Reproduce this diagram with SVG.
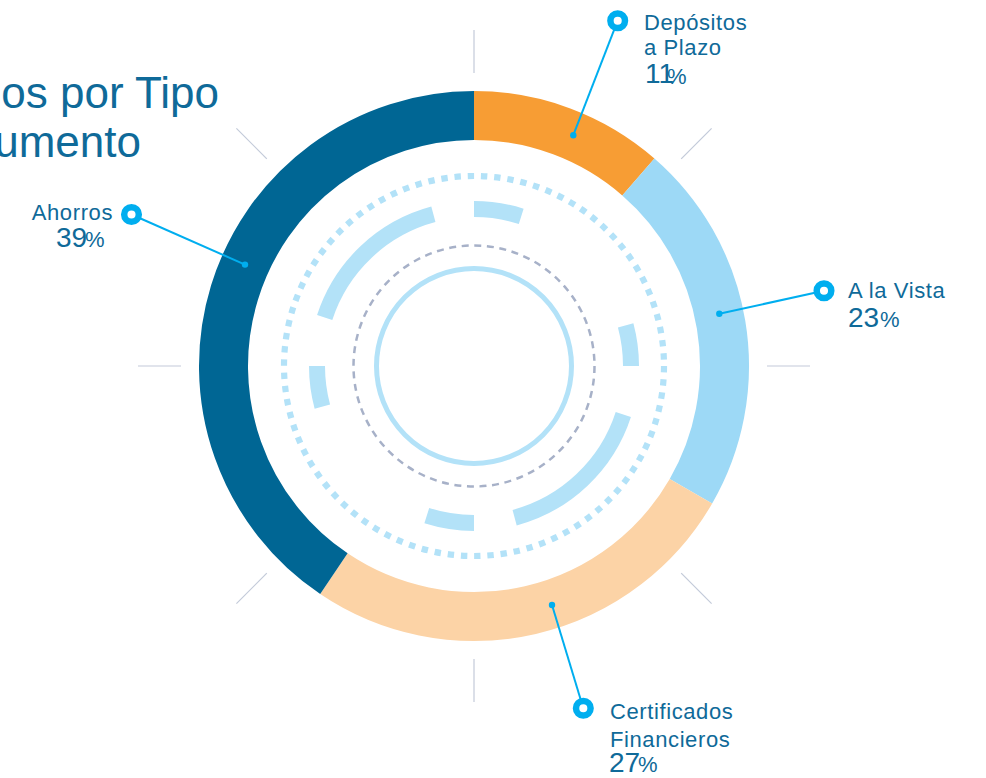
<svg xmlns="http://www.w3.org/2000/svg" width="986" height="778" viewBox="0 0 986 778">
<style>
text{font-family:"Liberation Sans",Arial,sans-serif;fill:#0f6a99}
.ttl{font-size:44px}
.lbl{font-size:22px;letter-spacing:0.6px}
.num{font-size:28px}
.pct{font-size:22px}
.seg{fill:none;stroke-width:49}
.arc{fill:none;stroke:#b3e2f8;stroke-width:16}
.tick{stroke:#c3cad9;stroke-width:1.2}
.conn{stroke:#00aeef;stroke-width:2;fill:none}
.mk{fill:#fff;stroke:#00aeef;stroke-width:6.5}
.dot{fill:#00aeef}
</style>
<rect width="986" height="778" fill="#fff"/>
<g id="title">
<text class="ttl" x="219" y="108" text-anchor="end">os por Tipo</text>
<text class="ttl" x="141" y="157" text-anchor="end">umento</text>
</g>
<g id="ticks">
<line class="tick" x1="474" y1="30" x2="474" y2="73"/>
<line class="tick" x1="681.2" y1="158.8" x2="711.6" y2="128.4"/>
<line class="tick" x1="767" y1="366" x2="810" y2="366"/>
<line class="tick" x1="681.2" y1="573.2" x2="711.6" y2="603.6"/>
<line class="tick" x1="474" y1="659" x2="474" y2="702"/>
<line class="tick" x1="266.8" y1="573.2" x2="236.4" y2="603.6"/>
<line class="tick" x1="181" y1="366" x2="138" y2="366"/>
<line class="tick" x1="266.8" y1="158.8" x2="236.4" y2="128.4"/>
</g>
<g id="ring">
<path id="seg-depositos" class="seg" stroke="#f79d34" d="M474 115.5A250.5 250.5 0 0 1 638.35 176.95"/>
<path id="seg-vista" class="seg" stroke="#9dd9f6" d="M638.35 176.95A250.5 250.5 0 0 1 690.94 491.25"/>
<path id="seg-certificados" class="seg" stroke="#fcd3a6" d="M690.94 491.25A250.5 250.5 0 0 1 333.92 573.67"/>
<path id="seg-ahorros" class="seg" stroke="#006694" d="M333.92 573.67A250.5 250.5 0 0 1 474 115.5"/>
</g>
<g id="decor">
<circle cx="474" cy="366" r="190" fill="none" stroke="#b3e2f8" stroke-width="6.2" stroke-dasharray="6.4 6.864"/>
<path class="arc" d="M474 209A157 157 0 0 1 521.21 216.27"/>
<path class="arc" d="M625.65 325.37A157 157 0 0 1 631 366"/>
<path class="arc" d="M623.32 414.51A157 157 0 0 1 514.63 517.65"/>
<path class="arc" d="M474 523A157 157 0 0 1 426.79 515.73"/>
<path class="arc" d="M322.35 406.63A157 157 0 0 1 317 366"/>
<path class="arc" d="M324.68 317.49A157 157 0 0 1 433.37 214.35"/>
<circle cx="474" cy="366" r="120.5" fill="none" stroke="#a7b1c8" stroke-width="2.5" stroke-dasharray="7 5.62"/>
<circle cx="474" cy="366" r="97.5" fill="none" stroke="#b3e2f8" stroke-width="5"/>
</g>
<g id="connectors">
<line class="conn" x1="617.7" y1="20.7" x2="573.3" y2="135.2"/>
<line class="conn" x1="824" y1="290.7" x2="719.3" y2="313.8"/>
<line class="conn" x1="583.3" y1="708.3" x2="552" y2="605"/>
<line class="conn" x1="131.5" y1="214.5" x2="245" y2="264.6"/>
<circle class="dot" cx="573.3" cy="135.2" r="3.2"/>
<circle class="dot" cx="719.3" cy="313.8" r="3.2"/>
<circle class="dot" cx="552" cy="605" r="3.2"/>
<circle class="dot" cx="245" cy="264.6" r="3.2"/>
</g>
<g id="label-depositos">
<circle class="mk" cx="617.7" cy="20.7" r="7.3"/>
<text class="lbl" x="644" y="30">Depósitos</text>
<text class="lbl" x="644" y="55">a Plazo</text>
<text class="num" x="645" y="83">11</text>
<text class="pct" x="667" y="84">%</text>
</g>
<g id="label-vista">
<circle class="mk" cx="824" cy="290.7" r="7.3"/>
<text class="lbl" x="848" y="298">A la Vista</text>
<text class="num" x="848" y="327">23</text>
<text class="pct" x="880" y="327">%</text>
</g>
<g id="label-certificados">
<circle class="mk" cx="583.3" cy="708.3" r="7.3"/>
<text class="lbl" x="610" y="719">Certificados</text>
<text class="lbl" x="610" y="747">Financieros</text>
<text class="num" x="609" y="772">27</text>
<text class="pct" x="638" y="772">%</text>
</g>
<g id="label-ahorros">
<circle class="mk" cx="131.5" cy="214.5" r="7.3"/>
<text class="lbl" x="113" y="220" text-anchor="end">Ahorros</text>
<text class="num" x="56" y="247">39</text>
<text class="pct" x="85" y="247">%</text>
</g>
</svg>
